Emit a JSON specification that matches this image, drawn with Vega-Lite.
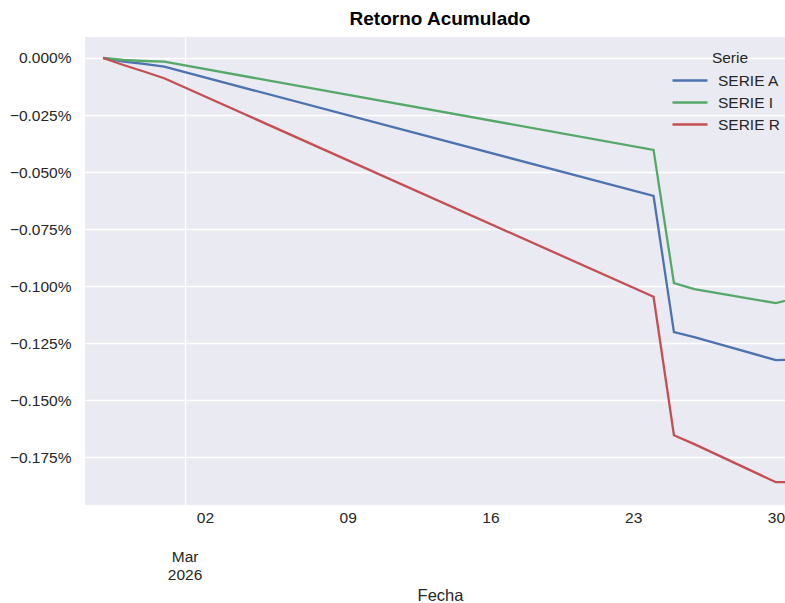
{
  "$schema": "https://vega.github.io/schema/vega-lite/v6.json",
  "width": 710,
  "height": 468,
  "autosize": {"type": "none"},
  "padding": {"left": 85, "top": 37, "right": 0, "bottom": 98},
  "title": {"text": "Retorno Acumulado", "fontSize": 19, "fontWeight": "bold", "color": "#000000", "offset": 8, "anchor": "middle"},
  "config": {
    "font": "Liberation Sans",
    "view": {"fill": "#EAEAF2", "stroke": null},
    "background": "white"
  },
  "data": {"values": [
    {"Fecha": "2026-02-25T00:00:00", "Serie": "SERIE A", "Retorno": 0},
    {"Fecha": "2026-02-26T00:00:00", "Serie": "SERIE A", "Retorno": -0.0000154},
    {"Fecha": "2026-02-27T00:00:00", "Serie": "SERIE A", "Retorno": -0.0000263},
    {"Fecha": "2026-02-28T00:00:00", "Serie": "SERIE A", "Retorno": -0.0000382},
    {"Fecha": "2026-03-24T00:00:00", "Serie": "SERIE A", "Retorno": -0.000605},
    {"Fecha": "2026-03-25T00:00:00", "Serie": "SERIE A", "Retorno": -0.001202},
    {"Fecha": "2026-03-26T00:00:00", "Serie": "SERIE A", "Retorno": -0.001224},
    {"Fecha": "2026-03-30T00:00:00", "Serie": "SERIE A", "Retorno": -0.001325},
    {"Fecha": "2026-03-31T00:00:00", "Serie": "SERIE A", "Retorno": -0.001322},
    {"Fecha": "2026-02-25T00:00:00", "Serie": "SERIE I", "Retorno": 0},
    {"Fecha": "2026-02-26T00:00:00", "Serie": "SERIE I", "Retorno": -0.0000088},
    {"Fecha": "2026-02-27T00:00:00", "Serie": "SERIE I", "Retorno": -0.0000132},
    {"Fecha": "2026-02-28T00:00:00", "Serie": "SERIE I", "Retorno": -0.0000162},
    {"Fecha": "2026-03-24T00:00:00", "Serie": "SERIE I", "Retorno": -0.000403},
    {"Fecha": "2026-03-25T00:00:00", "Serie": "SERIE I", "Retorno": -0.000987},
    {"Fecha": "2026-03-26T00:00:00", "Serie": "SERIE I", "Retorno": -0.001013},
    {"Fecha": "2026-03-30T00:00:00", "Serie": "SERIE I", "Retorno": -0.001075},
    {"Fecha": "2026-03-31T00:00:00", "Serie": "SERIE I", "Retorno": -0.001052},
    {"Fecha": "2026-02-25T00:00:00", "Serie": "SERIE R", "Retorno": 0},
    {"Fecha": "2026-02-26T00:00:00", "Serie": "SERIE R", "Retorno": -0.0000307},
    {"Fecha": "2026-02-27T00:00:00", "Serie": "SERIE R", "Retorno": -0.0000592},
    {"Fecha": "2026-02-28T00:00:00", "Serie": "SERIE R", "Retorno": -0.000089},
    {"Fecha": "2026-03-24T00:00:00", "Serie": "SERIE R", "Retorno": -0.001047},
    {"Fecha": "2026-03-25T00:00:00", "Serie": "SERIE R", "Retorno": -0.001654},
    {"Fecha": "2026-03-26T00:00:00", "Serie": "SERIE R", "Retorno": -0.001693},
    {"Fecha": "2026-03-30T00:00:00", "Serie": "SERIE R", "Retorno": -0.00186},
    {"Fecha": "2026-03-31T00:00:00", "Serie": "SERIE R", "Retorno": -0.00186}
  ]},
  "mark": {"type": "line", "strokeWidth": 2.3, "clip": true},
  "encoding": {
    "x": {
      "field": "Fecha", "type": "temporal",
      "scale": {"domain": [{"year": 2026, "month": 2, "date": 24, "hours": 2, "minutes": 45}, {"year": 2026, "month": 3, "date": 30, "hours": 22, "minutes": 30}], "nice": false},
      "axis": {
        "values": [
          {"year": 2026, "month": 3, "date": 1},
          {"year": 2026, "month": 3, "date": 2},
          {"year": 2026, "month": 3, "date": 9},
          {"year": 2026, "month": 3, "date": 16},
          {"year": 2026, "month": 3, "date": 23},
          {"year": 2026, "month": 3, "date": 30}
        ],
        "labelExpr": "date(datum.value) == 1 ? ['Mar', '2026'] : timeFormat(datum.value, '%d')",
        "labelOverlap": false,
        "labelFlush": false,
        "labelFontSize": 15.5,
        "labelColor": "#262626",
        "labelPadding": {"condition": {"test": "date(datum.value) == 1", "value": 44}, "value": 5},
        "labelLineHeight": 18.5,
        "labelBaseline": "top",
        "grid": true,
        "gridColor": "white",
        "gridWidth": 1.3,
        "gridOpacity": {"condition": {"test": "date(datum.value) == 1", "value": 1}, "value": 0},
        "domain": false,
        "ticks": false,
        "title": "Fecha",
        "titleFontSize": 16.5,
        "titleFontWeight": "normal",
        "titleColor": "#262626",
        "titleY": 90,
        "titleBaseline": "middle"
      }
    },
    "y": {
      "field": "Retorno", "type": "quantitative",
      "scale": {"domain": [-0.00196, 0.000092], "nice": false, "zero": false},
      "axis": {
        "values": [0, -0.00025, -0.0005, -0.00075, -0.001, -0.00125, -0.0015, -0.00175],
        "format": ".3%",
        "labelFontSize": 15.5,
        "labelColor": "#262626",
        "labelPadding": 14,
        "grid": true,
        "gridColor": "white",
        "gridWidth": 1.3,
        "domain": false,
        "ticks": false,
        "title": null
      }
    },
    "color": {
      "field": "Serie", "type": "nominal",
      "scale": {"range": ["#4C72B0", "#55A868", "#C44E52"]},
      "legend": {
        "orient": "none",
        "legendX": 595,
        "legendY": 14,
        "padding": 0,
        "title": "Serie",
        "titleAnchor": "middle",
        "titleFontSize": 15.5,
        "titleFontWeight": "normal",
        "titleColor": "#262626",
        "titlePadding": 4,
        "labelFontSize": 15.5,
        "labelColor": "#262626",
        "labelOffset": 18,
        "symbolType": "M-2,0H2",
        "symbolSize": 306,
        "symbolStrokeWidth": 2.5,
        "rowPadding": 3
      }
    }
  }
}
